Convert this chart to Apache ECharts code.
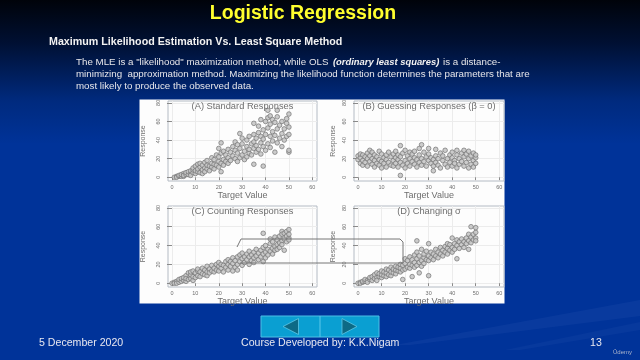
<!DOCTYPE html>
<html><head><meta charset="utf-8">
<style>html,body{margin:0;padding:0;background:#003399}.layer{position:absolute;left:0;top:0;width:640px;height:360px}#slide{filter:blur(0.45px)}#plots{filter:blur(0.5px)}</style>
<script src="https://cdn.jsdelivr.net/npm/echarts@6/dist/echarts.min.js"></script>
</head><body><div id="slide" class="layer"></div><div id="plots" class="layer"></div>
<script>
const panelTitles=['(A) Standard Responses','(B) Guessing Responses (β = 0)','(C) Counting Responses','(D) Changing σ'];
const xTicks=[0,10,20,30,40,50,60];
const yTicks=[0,20,40,60,80];
const xName='Target Value';
const yName='Response';
const heading='Logistic Regression';
const subHeading='Maximum Likelihood Estimation Vs. Least Square Method';
const footerDate='5 December 2020';
const footerCourse='Course Developed by: K.K.Nigam';
const footerPage='13';
const pointsA=[[1,0],[2,1],[2,0],[3,1],[3,2],[4,1],[4,3],[5,1],[5,4],[5,2],[6,3],[6,5],[7,3],[7,6],[8,4],[8,7],[8,2],[9,5],[9,8],[9,10],[10,4],[10,7],[10,12],[11,6],[11,9],[11,14],[12,5],[12,11],[12,15],[13,4],[13,8],[13,13],[14,10],[14,6],[14,16],[15,9],[15,13],[15,18],[16,12],[16,7],[17,11],[17,15],[17,21],[18,9],[18,14],[18,19],[19,13],[19,24],[20,11],[20,17],[20,22],[20,31],[21,6],[21,15],[21,26],[21,37],[22,13],[22,19],[22,28],[23,17],[23,24],[24,15],[24,21],[24,30],[25,18],[25,27],[26,23],[26,33],[27,20],[27,29],[27,38],[28,26],[28,17],[28,35],[29,47],[29,21],[29,31],[30,24],[30,36],[30,42],[31,19],[31,28],[32,22],[32,33],[32,40],[33,26],[33,44],[33,30],[34,36],[34,24],[35,14],[35,31],[35,38],[35,46],[35,58],[36,27],[36,42],[36,34],[37,48],[37,30],[37,55],[38,25],[38,37],[38,44],[38,62],[39,12],[39,33],[39,41],[39,51],[40,29],[40,46],[40,60],[41,36],[41,72],[41,53],[41,64],[42,32],[42,44],[42,57],[42,66],[43,39],[43,49],[43,62],[44,27],[44,45],[44,59],[45,72],[45,37],[45,52],[45,65],[46,42],[46,56],[47,33],[47,47],[47,60],[48,40],[48,52],[49,44],[49,58],[49,63],[50,27],[50,29],[50,46],[50,68],[50,54]];
const pointsB=[[0,19],[0,23],[1,15],[1,21],[1,25],[2,13],[2,18],[2,24],[3,16],[3,22],[4,12],[4,20],[4,26],[5,17],[5,23],[5,29],[6,14],[6,20],[6,27],[7,11],[7,18],[7,24],[8,15],[8,22],[9,19],[9,13],[9,28],[10,10],[10,17],[10,25],[11,21],[11,15],[12,11],[12,19],[12,24],[13,16],[13,27],[14,13],[14,22],[15,18],[15,25],[15,12],[16,15],[16,28],[16,21],[17,11],[17,19],[17,24],[18,2],[18,34],[18,16],[18,22],[19,13],[19,26],[20,18],[20,29],[20,10],[21,15],[21,23],[22,20],[22,27],[22,12],[23,17],[23,25],[24,14],[24,21],[24,28],[25,19],[25,11],[26,31],[26,16],[26,24],[27,35],[27,13],[27,20],[28,27],[28,17],[29,22],[29,12],[30,31],[30,18],[30,25],[31,15],[31,21],[32,7],[32,12],[32,19],[33,30],[33,23],[33,16],[34,13],[34,20],[35,26],[35,10],[36,18],[36,23],[37,14],[37,29],[38,20],[38,11],[39,16],[39,24],[40,12],[40,21],[40,27],[41,18],[41,15],[42,24],[42,10],[42,29],[43,20],[43,14],[44,26],[44,17],[45,12],[45,22],[45,29],[46,16],[46,25],[47,10],[47,20],[47,28],[48,14],[48,23],[49,18],[49,11],[49,26],[50,15],[50,21],[50,24]];
const pointsC=[[0,0],[1,1],[1,0],[2,2],[2,0],[3,1],[3,4],[4,2],[4,5],[5,3],[5,6],[6,2],[6,8],[6,5],[7,4],[7,11],[8,5],[8,9],[8,12],[9,3],[9,7],[9,13],[10,6],[10,11],[11,8],[11,13],[11,15],[12,7],[12,12],[13,10],[13,16],[14,9],[14,14],[15,8],[15,12],[15,18],[16,15],[16,11],[17,13],[17,19],[18,12],[18,16],[19,14],[19,20],[20,13],[20,18],[20,22],[21,16],[21,20],[22,12],[22,19],[23,17],[23,23],[24,14],[24,20],[24,25],[25,18],[25,23],[26,13],[26,21],[26,27],[27,17],[27,24],[28,20],[28,28],[28,14],[29,23],[29,30],[30,19],[30,26],[30,32],[31,22],[31,28],[32,25],[32,31],[33,20],[33,28],[33,34],[34,24],[34,30],[35,27],[35,33],[35,22],[36,29],[36,36],[37,25],[37,32],[38,28],[38,35],[39,53],[39,23],[39,31],[39,38],[40,33],[40,27],[40,40],[41,36],[41,30],[42,34],[42,42],[42,47],[43,37],[43,31],[43,44],[44,39],[44,35],[44,49],[45,41],[45,46],[45,36],[46,43],[46,38],[46,50],[47,55],[47,45],[47,41],[47,52],[48,47],[48,35],[48,53],[49,50],[49,44],[49,55],[50,48],[50,52],[50,57],[50,46]];
const pointsD=[[0,0],[1,1],[1,0],[2,1],[2,2],[3,2],[3,4],[4,3],[4,1],[5,4],[5,6],[6,3],[6,7],[7,5],[7,9],[8,6],[8,3],[8,11],[9,7],[9,10],[10,6],[10,9],[10,13],[11,8],[11,12],[12,7],[12,11],[12,15],[13,9],[13,14],[14,8],[14,12],[14,17],[15,11],[15,15],[16,10],[16,14],[16,18],[17,13],[17,17],[18,12],[18,16],[18,20],[19,4],[19,14],[19,19],[20,15],[20,21],[20,26],[21,17],[21,24],[22,16],[22,20],[22,28],[23,7],[23,19],[23,25],[24,17],[24,22],[24,30],[25,45],[25,19],[25,26],[25,33],[26,11],[26,22],[26,29],[27,24],[27,36],[27,18],[28,27],[28,21],[28,31],[29,25],[29,34],[30,8],[30,42],[30,24],[30,29],[31,27],[31,33],[32,25],[32,31],[33,29],[33,36],[34,27],[34,33],[35,31],[35,38],[36,29],[36,35],[37,33],[37,39],[38,31],[38,37],[38,42],[39,35],[39,41],[40,33],[40,38],[40,48],[41,36],[41,42],[42,40],[42,46],[42,26],[43,37],[43,44],[44,41],[44,47],[45,38],[45,44],[46,42],[46,48],[47,45],[47,36],[47,52],[48,43],[48,49],[48,60],[49,46],[49,52],[50,48],[50,54],[50,59],[50,45]];
const allPoints=[pointsA,pointsB,pointsC,pointsD];

const frames=[{l:168,r:317,t:101,b:181,ng:21,xg:10},{l:354,r:504,t:101,b:181,ng:17,xg:10},{l:168,r:317,t:206,b:287,ng:21,xg:10},{l:354,r:504,t:206,b:287,ng:17,xg:10}];
const ink='#6e6e6e';
const grids=[],xs=[],ys=[],ser=[],titles=[];
frames.forEach((f,i)=>{
  grids.push({show:true,left:f.l,top:f.t,width:f.r-f.l,height:f.b-f.t,backgroundColor:'#fdfdfd',borderColor:'#b4bbc4',borderWidth:1,z:0});
  const common={axisLine:{show:false},splitLine:{show:true,lineStyle:{color:'#ececec',width:1}}};
  xs.push({...common,gridIndex:i,type:'value',min:-1.7,max:62,name:xName,nameLocation:'middle',nameGap:f.xg,nameTextStyle:{color:ink,fontSize:9,fontFamily:'Liberation Sans'},
    axisTick:{length:3,lineStyle:{color:'#8a8a8a'},customValues:xTicks},axisLabel:{customValues:xTicks,color:ink,fontSize:5.5,margin:3,formatter:v=>String(v),showMinLabel:true,showMaxLabel:true}});
  ys.push({...common,gridIndex:i,type:'value',min:-4,max:82,name:yName,nameLocation:'middle',nameGap:f.ng,nameTextStyle:{color:ink,fontSize:7,fontFamily:'Liberation Sans'},
    axisTick:{length:5,lineStyle:{color:'#8a8a8a'},customValues:yTicks},axisLabel:{customValues:yTicks,color:ink,fontSize:5.5,rotate:90,margin:7,formatter:v=>String(v),showMinLabel:true,showMaxLabel:true}});
  ser.push({type:'scatter',xAxisIndex:i,yAxisIndex:i,data:allPoints[i],symbolSize:4.6,z:4,itemStyle:{color:'#c6c6c6',borderColor:'#757575',borderWidth:0.8,opacity:0.9}});
  titles.push({text:panelTitles[i],left:(f.l+f.r)/2,top:f.t+1,padding:0,textAlign:'center',z:6,textStyle:{color:ink,fontSize:9.3,fontWeight:'normal',fontFamily:'Liberation Sans'}});
});
const T=(x,y,text,fs,col,extra)=>({type:'text',x,y,z:2,style:Object.assign({text,fontSize:fs,fill:col,fontFamily:'Liberation Sans',verticalAlign:'middle'},extra||{})});
const slideGraphic=[
 {type:'polygon',z:-3,shape:{points:[[640,300],[640,316],[410,345],[395,345]]},style:{fill:'rgba(90,130,210,0.10)'}},
 {type:'polygon',z:-3,shape:{points:[[640,322],[640,330],[520,350],[505,350]]},style:{fill:'rgba(90,130,210,0.08)'}},
 T(49,42,subHeading,10.7,'#f2f2f2',{fontWeight:'bold'}),
 T(76,62,'The MLE is a "likelihood" maximization method, while OLS',9.75,'#e6e6ea'),
 T(333,62,'(ordinary least squares)',9.4,'#f2f2f2',{fontStyle:'italic',fontWeight:'bold'}),
 T(443,62,'is a distance-',9.75,'#e6e6ea'),
 T(76,74,'minimizing  approximation method. Maximizing the likelihood function determines the parameters that are',9.75,'#e6e6ea'),
 T(76,86,'most likely to produce the observed data.',9.75,'#e6e6ea'),
 {type:'rect',z:20,shape:{x:261,y:316,width:118,height:21},style:{fill:'#0a9fd2',stroke:'#4cc0e6',lineWidth:1}},
 {type:'line',z:20,shape:{x1:320,y1:316,x2:320,y2:337},style:{stroke:'#5cc8ea',lineWidth:1}},
 {type:'polygon',z:21,shape:{points:[[283,326.5],[298.5,318.5],[298.5,334.5]]},style:{fill:'#0d6a85',stroke:'#5fc8e6',lineWidth:0.8}},
 {type:'polygon',z:21,shape:{points:[[357,326.5],[342,318.5],[342,334.5]]},style:{fill:'#0d6a85',stroke:'#5fc8e6',lineWidth:0.8}},
 T(39,343,footerDate,10.6,'#e8e8f0'),
 T(241,343,footerCourse,10.6,'#e8e8f0'),
 T(590,343,footerPage,10.6,'#e8e8f0'),
 T(613,352,'Ûdemy',6,'#aab4cc')
];
const plotGraphic=[
 {type:'rect',z:-2,shape:{x:139.5,y:99.5,width:365,height:204},style:{fill:'#fdfdfd'}},
 {type:'polyline',z:20,shape:{points:[[237,247],[241,239],[400,239],[403,242],[403,263],[240,263]]},style:{stroke:'#777',fill:'none',lineWidth:1}}
];
const slide=echarts.init(document.getElementById('slide'),null,{renderer:'canvas',width:640,height:360});
slide.setOption({animation:false,
 backgroundColor:{type:'linear',x:0,y:0,x2:0,y2:1,colorStops:[{offset:0,color:'#00030a'},{offset:0.12,color:'#001033'},{offset:0.28,color:'#002a7e'},{offset:0.4,color:'#003399'},{offset:1,color:'#003399'}]},
 title:{text:heading,left:303,top:4,padding:0,textAlign:'center',textStyle:{color:'#ffff2e',fontSize:19.5,fontWeight:'bold',fontFamily:'Liberation Sans'}},
 graphic:{elements:slideGraphic}});
const plots=echarts.init(document.getElementById('plots'),null,{renderer:'canvas',width:640,height:360});
plots.setOption({animation:false,backgroundColor:'transparent',title:titles,grid:grids,xAxis:xs,yAxis:ys,series:ser,graphic:{elements:plotGraphic}});
</script></body></html>
